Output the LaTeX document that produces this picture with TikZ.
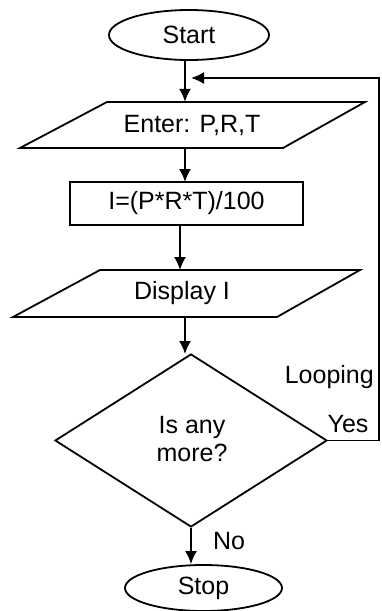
\documentclass[tikz,border=0pt]{standalone}
\usepackage{fontspec}
\setmainfont{Liberation Sans}
\usetikzlibrary{shapes.geometric,arrows.meta}
\begin{document}
\begin{tikzpicture}[x=1pt,y=-1pt,
  every node/.style={font=\fontsize{25}{28}\selectfont, inner sep=0pt},
  line/.style={line width=1.8pt, line join=miter},
  arr/.style={line width=1.8pt, -{Latex[length=13pt,width=12pt]}},
  term/.style={ellipse, draw, line width=1.8pt},
  io/.style={draw=none, minimum height=46pt},
  proc/.style={rectangle, draw, line width=1.8pt},
  dec/.style={diamond, draw, line width=1.8pt}
]
\useasboundingbox (0,0) rectangle (381,611);
% nodes
\node[term, minimum width=160pt, minimum height=50pt] (start) at (189,35) {Start};
\node[io] (enter) at (192,125) {Enter: P,R,T};
\draw[line] (107,102) -- (365,102) -- (283,148) -- (20,148) -- cycle;
\node[proc, minimum width=233pt, minimum height=43pt] (calc) at (186.5,203.5) {I=(P*R*T)/100};
\node[io, minimum height=47pt] (disp) at (182,293.5) {Display I};
\draw[line] (100,270) -- (360,270) -- (277,317) -- (13,317) -- cycle;
\node[dec, minimum width=272pt, minimum height=173pt, aspect=1.57] (dec) at (191,440.5) {};
\node[align=center] (q) at (192,439) {Is any\\more?};
\node[term, minimum width=157pt, minimum height=46pt] (stop) at (203.5,588) {Stop};
% coordinates
\coordinate (a1) at (185,60);
\coordinate (loopR) at (379,78);
\coordinate (loopE) at (191,78);
% connectors
\draw[arr] (a1) -- (a1 |- enter.north);
\draw[arr] (185,148) -- (185,182);
\draw[arr] (180,225) -- (180,270);
\draw[arr] (185,317) -- (185,354);
\draw[arr] (dec.south) -- (dec.south |- stop.north);
\draw[arr] (dec.east) -| (loopR) -- (loopE);
% labels
\node[anchor=east] (looping) at (374,377) {Looping};
\node (yes) at (348,424) {Yes};
\node (no) at (229,541) {No};
\end{tikzpicture}
\end{document}
